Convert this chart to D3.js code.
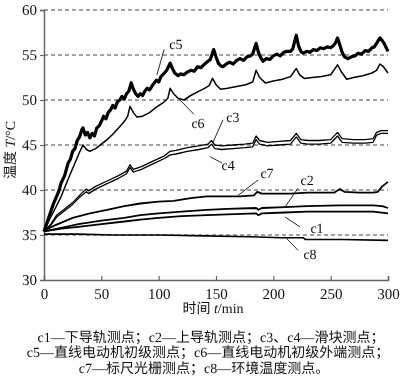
<!DOCTYPE html>
<html lang="zh-CN"><head><meta charset="utf-8">
<script src="https://cdn.jsdelivr.net/npm/d3@7"></script>
<style>
body{margin:0;background:#fff;}
svg{will-change:transform;}
svg text{font-family:"Liberation Serif","Noto Sans CJK SC",serif;fill:#111;text-rendering:geometricPrecision;}
</style></head>
<body><svg id="chart" width="400" height="379"></svg>
<script>
const xTicks=[0,50,100,150,200,250,300];
const yTicks=[30,35,40,45,50,55,60];
const gridValues=[35,40,45,50,55,60];

const c5=[[0,35.4],[4,36.9],[8,38.4],[11,39.3],[13,39.9],[15,40.8],[18,41.6],[21,43.0],[23,43.4],[25,44.3],[27,44.6],[29,45.5],[31,45.9],[33,46.7],[34,46.9],[36,46.1],[38,46.4],[40,45.8],[42,46.3],[44,46.0],[46,46.9],[48,47.1],[50,47.6],[52,48.2],[54,47.9],[56,48.6],[58,48.9],[60,49.4],[62,49.1],[64,49.8],[66,50.0],[68,50.4],[70,50.1],[72,50.7],[74,51.0],[76,51.9],[78,51.2],[80,50.7],[82,50.4],[84,50.7],[86,50.5],[88,51.0],[90,51.3],[92,51.1],[95,51.7],[98,52.2],[100,52.0],[102,52.6],[105,53.0],[107,53.3],[110,54.1],[112,53.5],[114,53.0],[117,52.7],[119,52.9],[122,52.8],[125,53.1],[128,53.3],[131,53.2],[134,53.7],[137,53.6],[140,54.0],[143,54.3],[145,54.5],[148,55.6],[150,54.8],[152,54.1],[154,53.8],[156,53.7],[159,54.0],[162,54.2],[165,54.0],[168,54.4],[171,54.6],[174,54.4],[177,54.8],[180,54.9],[182,55.1],[185,56.3],[187,55.3],[189,54.7],[191,54.3],[194,54.6],[197,54.5],[200,54.9],[203,55.1],[206,54.9],[209,55.3],[212,55.4],[215,55.4],[217,55.7],[220,57.2],[222,56.0],[224,55.4],[226,55.2],[229,55.4],[232,55.3],[235,55.6],[238,55.5],[241,55.8],[244,55.7],[247,55.9],[250,55.8],[252,56.0],[254,56.3],[256,56.9],[258,56.1],[260,55.3],[262,54.8],[265,54.6],[268,54.8],[271,54.9],[274,55.2],[277,55.1],[280,55.5],[283,55.4],[286,55.8],[288,55.9],[290,56.3],[293,56.9],[295,56.6],[297,56.2],[300,55.4]];

const c6=[[0,35.4],[5,36.8],[10,38.0],[15,39.3],[21,41.2],[27,43.0],[31,44.2],[34,45.0],[37,44.5],[40,44.3],[45,44.6],[50,45.1],[55,45.6],[60,46.2],[65,46.9],[70,47.6],[73,48.2],[75,49.3],[78,48.6],[81,48.1],[86,48.2],[92,48.6],[98,49.2],[104,49.7],[108,50.2],[110,51.3],[113,50.7],[117,50.2],[122,50.0],[128,50.5],[134,50.9],[140,51.3],[144,51.6],[147,52.4],[150,51.7],[154,51.2],[160,51.3],[168,51.5],[176,51.7],[182,52.0],[185,53.3],[188,52.5],[193,51.9],[200,52.1],[208,52.3],[215,52.6],[220,53.5],[223,52.8],[227,52.4],[234,52.5],[242,52.6],[250,52.8],[256,53.9],[259,53.2],[264,52.3],[270,52.5],[278,52.7],[286,53.0],[290,53.3],[293,54.0],[296,53.7],[300,53.0]];

const c3=[[0,35.4],[6,36.2],[11,37.2],[18,37.9],[25,38.6],[31,39.4],[35,39.9],[37,40.1],[39,39.9],[45,40.4],[55,41.0],[65,41.6],[72,42.1],[75,42.8],[78,42.3],[85,42.6],[95,43.2],[105,43.8],[110,44.3],[115,44.4],[125,44.7],[135,44.9],[143,45.1],[146,45.5],[149,45.0],[155,44.9],[165,45.0],[175,45.1],[182,45.2],[185,46.0],[188,45.5],[195,45.3],[205,45.4],[215,45.5],[220,46.3],[224,45.6],[230,45.5],[240,45.5],[250,45.6],[256,46.4],[260,45.7],[270,45.6],[280,45.6],[287,45.7],[290,46.4],[294,46.6],[300,46.6]];

const c4=[[0,35.4],[6,36.1],[11,37.0],[18,37.7],[25,38.4],[31,39.2],[35,39.6],[37,39.8],[39,39.6],[45,40.1],[55,40.7],[65,41.3],[72,41.8],[75,42.5],[78,42.0],[85,42.3],[95,42.9],[105,43.5],[110,43.9],[115,44.0],[125,44.3],[135,44.5],[143,44.7],[146,45.1],[149,44.6],[155,44.5],[165,44.6],[175,44.7],[182,44.8],[185,45.6],[188,45.1],[195,44.9],[205,45.0],[215,45.1],[220,45.9],[224,45.2],[230,45.1],[240,45.1],[250,45.2],[256,46.0],[260,45.3],[270,45.2],[280,45.2],[287,45.3],[290,46.1],[294,46.3],[300,46.3]];

const c7=[[0,35.5],[10,36.1],[25,36.9],[40,37.4],[55,37.8],[70,38.2],[84,38.5],[100,38.7],[113,38.8],[128,39.1],[142,39.3],[157,39.3],[171,39.3],[183,39.4],[186,39.8],[190,39.6],[200,39.6],[215,39.6],[230,39.7],[245,39.7],[253,39.7],[258,40.1],[262,39.8],[275,39.7],[287,39.7],[291,39.8],[295,40.4],[300,40.9]];

const c2=[[0,35.4],[15,35.8],[30,36.2],[50,36.6],[70,36.9],[84,37.2],[100,37.4],[120,37.6],[142,37.8],[160,37.9],[185,38.0],[187,37.8],[190,38.0],[210,38.1],[229,38.2],[258,38.3],[287,38.3],[295,38.2],[300,38.0]];

const c1=[[0,35.4],[15,35.7],[30,35.9],[50,36.2],[70,36.5],[84,36.7],[100,36.9],[120,37.1],[142,37.2],[160,37.3],[185,37.4],[187,37.2],[190,37.4],[210,37.5],[229,37.6],[260,37.6],[287,37.6],[300,37.4]];

const c8=[[0,35.1],[30,35.1],[60,35.0],[100,35.0],[140,34.9],[180,34.8],[207,34.7],[226,34.7],[228,34.5],[260,34.5],[300,34.4]];

const labelNames=["c5","c6","c3","c4","c7","c2","c1","c8"];
const labelPos=[[115,56.1],[134.3,47.3],[164.8,48.0],[160.5,42.6],[194.5,41.7],[229.4,40.9],[238.1,35.6],[232,32.7]];
const leaderFrom=[[104.7,55.6],[118.6,50.0],[156.1,47.8],[144.8,43.7],[186.6,41.1],[221.5,40.2],[210.2,37.0],[210.2,34.8]];
const leaderTo=[[98.5,52.8],[130.8,48.4],[147.4,45.3],[155.2,43.0],[169.2,39.4],[210.2,38.1],[223.3,35.9],[221.5,33.3]];

const captionLines=["c1—下导轨测点；c2—上导轨测点；c3、c4—滑块测点；","c5—直线电动机初级测点；c6—直线电动机初级外端测点；","c7—标尺光栅测点；c8—环境温度测点。"];

const svg=d3.select("#chart");
svg.append("rect").attr("width",400).attr("height",379).attr("fill","#fff");
const x=d3.scaleLinear().domain([0,300]).range([44,388]);
const y=d3.scaleLinear().domain([30,60]).range([280,10]);

// grid
svg.append("g").selectAll("line").data(gridValues).join("line")
  .attr("x1",x(0)).attr("x2",x(300)).attr("y1",d=>y(d)).attr("y2",d=>y(d))
  .attr("stroke","#444").attr("stroke-width",1).attr("stroke-dasharray","4,3");

// axes
const gx=svg.append("g").attr("transform",`translate(0,${y(30)})`)
  .call(d3.axisBottom(x).tickValues(xTicks).tickSize(-4).tickPadding(8).tickFormat(d3.format("d")));
const gy=svg.append("g").attr("transform",`translate(${x(0)},0)`)
  .call(d3.axisLeft(y).tickValues(yTicks).tickSize(4).tickPadding(3).tickFormat(d3.format("d")));
[gx,gy].forEach(g=>{
  g.select(".domain").attr("stroke","#666").attr("stroke-width",1.5);
  g.selectAll(".tick line").attr("stroke","#666").attr("stroke-width",1.2);
  g.selectAll(".tick text").style("font-family","'Liberation Serif',serif").style("font-size","15px").attr("fill","#111");
});
gx.selectAll(".tick").filter(d=>d===0).select("line").remove();
gy.selectAll(".tick").filter(d=>d===30).select("line").remove();

const line=d3.line().x(d=>x(d[0])).y(d=>y(d[1]));
const plot=svg.append("g");
[[c8,1.6],[c1,1.8],[c2,1.8],[c7,1.8],[c4,1.3],[c3,1.3],[c6,1.5],[c5,3.2]].forEach(([data,w])=>{
  plot.append("path").datum(data).attr("d",line).attr("fill","none")
    .attr("stroke","#000").attr("stroke-width",w).attr("stroke-linejoin","round");
});

// labels
const ann=svg.append("g");
labelNames.forEach((n,i)=>{
  ann.append("line").attr("x1",x(leaderFrom[i][0])).attr("y1",y(leaderFrom[i][1]))
    .attr("x2",x(leaderTo[i][0])).attr("y2",y(leaderTo[i][1]))
    .attr("stroke","#111").attr("stroke-width",0.9);
  ann.append("text").attr("x",x(labelPos[i][0])).attr("y",y(labelPos[i][1]))
    .attr("text-anchor","middle").attr("dominant-baseline","central")
    .style("font-size","14px").text(n);
});

// axis titles
const yt=svg.append("text").attr("transform","translate(11,150) rotate(-90)")
  .attr("text-anchor","middle").attr("dominant-baseline","central").style("font-size","14px");
yt.append("tspan").text("温度 ");
yt.append("tspan").style("font-style","italic").text("T");
yt.append("tspan").text("/°C");
const xt=svg.append("text").attr("x",213).attr("y",309)
  .attr("text-anchor","middle").attr("dominant-baseline","central").style("font-size","14px");
xt.append("tspan").text("时间 ");
xt.append("tspan").style("font-style","italic").text("t");
xt.append("tspan").text("/min");

// caption
const capX=[211,208,204];
const capY=[338,353.5,369];
captionLines.forEach((t,i)=>{
  svg.append("text").attr("x",capX[i]).attr("y",capY[i]).attr("text-anchor","middle")
    .attr("dominant-baseline","central").style("font-size","14px").style("fill","#111").text(t);
});
</script></body></html>
